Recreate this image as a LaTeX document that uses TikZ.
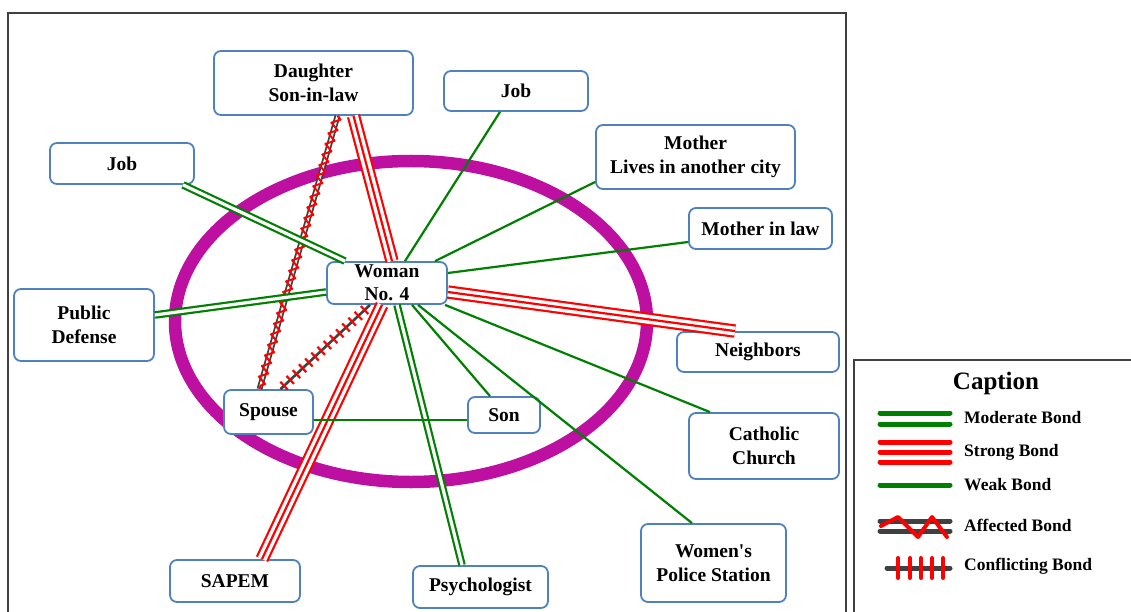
\documentclass[tikz,border=0pt]{standalone}
\usepackage{fontspec}
\setmainfont{Liberation Serif}
\newfontfamily\plainf{Liberation Serif}
\usetikzlibrary{backgrounds,decorations.pathmorphing,decorations.markings}
\definecolor{nodeblue}{RGB}{79,129,189}
\definecolor{bgreen}{RGB}{0,128,0}
\definecolor{bred}{RGB}{255,0,0}
\definecolor{bmag}{RGB}{190,16,160}
\definecolor{bgray}{RGB}{64,64,64}
\tikzset{
  box/.style={draw=nodeblue, line width=1.8pt, rounded corners=7pt, fill=white, inner sep=0pt, align=center,
    font=\fontsize{19.5}{23.5}\selectfont\bfseries},
  strongout/.style={draw=bred, line width=2.2pt, double=white, double distance=9pt},
  strongmid/.style={draw=bred, line width=2.2pt},
  modbond/.style={draw=bgreen, line width=2.2pt, double=white, double distance=3.2pt},
  weakbond/.style={draw=bgreen, line width=2.2pt},
  affbase/.style={draw=bgray, line width=1.8pt, double=white, double distance=2.2pt},
  affzig/.style={draw=bred, line width=2pt, line join=round, decorate, decoration={zigzag, amplitude=4pt, segment length=11pt}},
  confbond/.style={draw=bgray, line width=2.6pt, postaction={decorate, decoration={markings,
      mark=between positions 0.04 and 0.97 step 8.5pt with {\draw[bred, line width=2.2pt] (0pt,-5.5pt) -- (0pt,5.5pt);}}}},
  legtext/.style={anchor=west, inner sep=0pt, font=\fontsize{17.5}{21}\selectfont\bfseries},
  legline/.style={line width=5pt, line cap=round}
}
\begin{document}
\begin{tikzpicture}[x=1pt, y=-1pt]
\useasboundingbox (0,0) rectangle (1131,612);
% frames
\draw[bgray, line width=1.5pt] (8,625) -- (8,13) -- (846,13) -- (846,625);
\draw[bgray, line width=1.5pt] (854,625) -- (854,360) -- (1140,360);

% nodes
\node[box, minimum width=199pt, minimum height=64pt] (dau) at (313.5,83) {Daughter\\Son-in-law};
\node[box, minimum width=144pt, minimum height=40pt] (jobt) at (516,91) {Job};
\node[box, minimum width=144pt, minimum height=41pt] (jobl) at (122,163.5) {Job};
\node[box, minimum width=199pt, minimum height=64pt] (mother) at (695.5,157) {Mother\\Lives in another city};
\node[box, minimum width=143pt, minimum height=41pt] (mil) at (760.5,228.5) {Mother in law};
\node[box, minimum width=120pt, minimum height=42pt] (woman) at (387,283) {Woman\\No. 4};
\node[box, minimum width=140pt, minimum height=72pt] (pub) at (84,325) {Public\\Defense};
\node[box, minimum width=162pt, minimum height=40pt] (neigh) at (758,352) {Neighbors};
\node[box, minimum width=89pt, minimum height=44pt] (spouse) at (268.5,412) {Spouse};
\node[box, minimum width=72pt, minimum height=36pt] (son) at (504,415) {Son};
\node[box, minimum width=150pt, minimum height=66pt] (church) at (764,446) {Catholic\\Church};
\node[box, minimum width=145pt, minimum height=78pt] (police) at (713.5,563) {Women{\plainf\bfseries '}s\\Police Station};
\node[box, minimum width=130pt, minimum height=42pt] (sapem) at (235,581) {SAPEM};
\node[box, minimum width=135pt, minimum height=42pt] (psych) at (480.5,587) {Psychologist};

\begin{pgfonlayer}{background}
\draw[bmag, line width=12.5pt] (411,321.5) ellipse [x radius=236, y radius=160.5];
\end{pgfonlayer}

% connectors
\draw[strongout] ([xshift=40pt]dau.south) -- ([xshift=5pt]woman.north);
\draw[strongmid] ([xshift=40pt]dau.south) -- ([xshift=5pt]woman.north);
\draw[affbase] ([xshift=24pt]dau.south) -- ([xshift=-9pt]spouse.north);
\draw[affzig] ([xshift=24pt]dau.south) -- ([xshift=-9pt]spouse.north);
\draw[confbond] ([xshift=12pt]spouse.north) -- ([xshift=-17pt]woman.south);
\draw[strongout] ([xshift=-5pt]woman.south) -- ([xshift=27pt]sapem.north);
\draw[strongmid] ([xshift=-5pt]woman.south) -- ([xshift=27pt]sapem.north);
\draw[modbond] ([xshift=10pt]woman.south) -- ([xshift=-18.5pt]psych.north);
\draw[weakbond] ([xshift=25pt]woman.south) -- ([xshift=-14pt]son.north);
\draw[weakbond] ([xshift=31pt]woman.south) -- ([xshift=-21.5pt]police.north);
\draw[weakbond] ([xshift=58pt]woman.south) -- ([xshift=-54pt]church.north);
\draw[strongout] ([yshift=-9pt]woman.east) -- ([xshift=-23pt]neigh.north);
\draw[strongmid] ([yshift=-9pt]woman.east) -- ([xshift=-23pt]neigh.north);
\draw[weakbond] ([yshift=10pt]woman.east) -- ([yshift=-13.5pt]mil.west);
\draw[weakbond] ([xshift=48pt]woman.north) -- ([yshift=-25pt]mother.west);
\draw[weakbond] ([xshift=18pt]woman.north) -- ([xshift=-16pt]jobt.south);
\draw[modbond] ([xshift=-42pt]woman.north) -- ([xshift=61pt]jobl.south);
\draw[modbond] ([yshift=-9pt]woman.west) -- ([yshift=10pt]pub.east);
\draw[weakbond] ([yshift=-8pt]spouse.east) -- ([yshift=-5pt]son.west);

% legend
\node[font=\fontsize{25}{30}\selectfont\bfseries, inner sep=0pt] (cap) at (996,383) {Caption};
\draw[bgreen, legline] (880,413) -- (950,413);
\draw[bgreen, legline] (880,424) -- (950,424);
\node[legtext] (lmod) at (964,418) {Moderate Bond};
\draw[bred, legline] (880,442) -- (950,442);
\draw[bred, legline] (880,452) -- (950,452);
\draw[bred, legline] (880,462) -- (950,462);
\node[legtext] (lstr) at (964,452) {Strong Bond};
\draw[bgreen, legline] (880,485) -- (950,485);
\node[legtext] (lweak) at (964,485) {Weak Bond};
\draw[bgray, legline] (880,521) -- (950,521);
\draw[bgray, legline] (880,531) -- (950,531);
\draw[bred, line width=4pt, line cap=round, line join=round] (881,526) -- (898,517) -- (918,537) -- (932,517) -- (947,537);
\node[legtext] (laff) at (964,525) {Affected Bond};
\draw[bgray, legline] (887,568) -- (950,568);
\foreach \tx in {898,910,921,932,943} \draw[bred, line width=4pt, line cap=round] (\tx,558) -- (\tx,578);
\node[legtext] (lconf) at (964,566) {Conflicting Bond};
\end{tikzpicture}
\end{document}
